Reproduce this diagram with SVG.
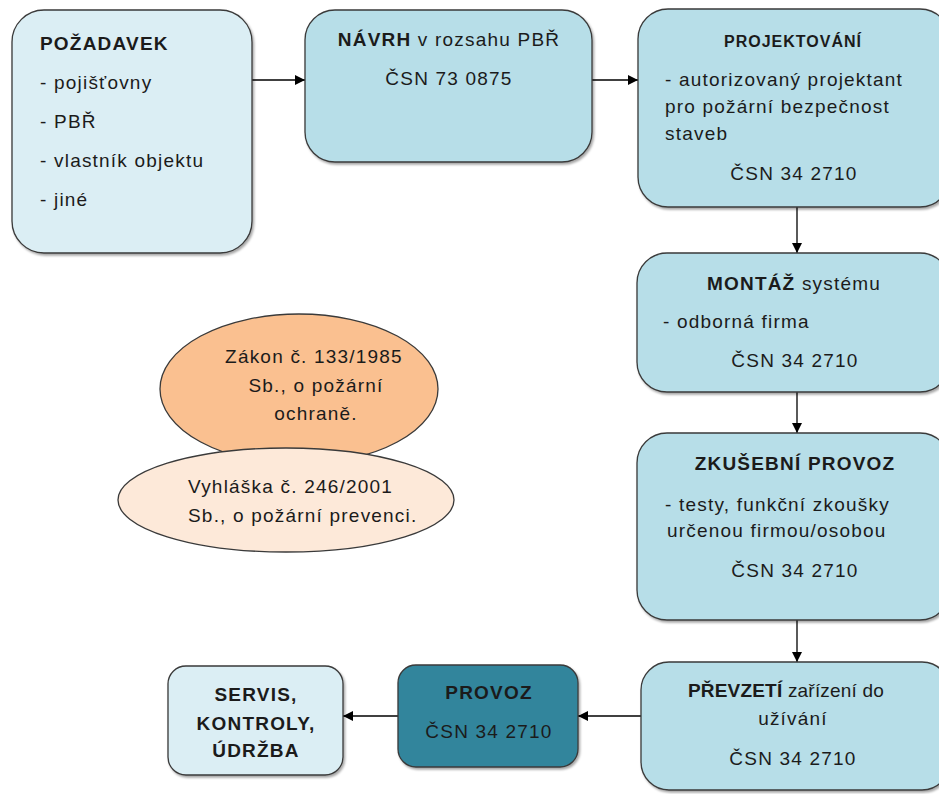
<svg xmlns="http://www.w3.org/2000/svg" width="939" height="794" viewBox="0 0 939 794">
  <defs>
    <marker id="arrow" viewBox="0 0 10 10" refX="10" refY="5" markerWidth="10" markerHeight="10" markerUnits="userSpaceOnUse" orient="auto">
      <path d="M0,0 L10,5 L0,10 z" fill="#000"/>
    </marker>
    <filter id="shadow" x="-5%" y="-5%" width="115%" height="115%">
      <feDropShadow dx="1.5" dy="2" stdDeviation="1" flood-color="#000" flood-opacity="0.35"/>
    </filter>
  </defs>
  <style>
    .box { stroke: #3a3a3a; stroke-width: 1.3; filter: url(#shadow); }
    .pale { fill: #dbeef4; }
    .mid { fill: #b7dee8; }
    .dark { fill: #31859c; }
    .t { font-family: "Liberation Sans", Arial, sans-serif; font-size: 19px; letter-spacing: 1.2px; fill: #1b1b1b; }
    .c { text-anchor: middle; }
    .b { font-weight: bold; }
    .conn { stroke: #000; stroke-width: 1.3; fill: none; marker-end: url(#arrow); }
  </style>

  <rect width="939" height="794" fill="#fff"/>

  <!-- connectors -->
  <g id="connectors">
    <line class="conn" x1="252" y1="80" x2="305" y2="80"/>
    <line class="conn" x1="592" y1="80" x2="638" y2="80"/>
    <line class="conn" x1="797" y1="207" x2="797" y2="253"/>
    <line class="conn" x1="797" y1="392" x2="797" y2="433"/>
    <line class="conn" x1="797" y1="620" x2="797" y2="662"/>
    <line class="conn" x1="641" y1="716" x2="578" y2="716"/>
    <line class="conn" x1="398" y1="716" x2="343" y2="716"/>
  </g>

  <!-- request -->
  <g id="pozadavek">
    <rect class="box pale" x="12" y="10" width="240" height="243" rx="32"/>
    <text class="t b" x="40" y="50">POŽADAVEK</text>
    <text class="t" x="40" y="89">- pojišťovny</text>
    <text class="t" x="40" y="128">- PBŘ</text>
    <text class="t" x="40" y="167">- vlastník objektu</text>
    <text class="t" x="40" y="206">- jiné</text>
  </g>

  <!-- design -->
  <g id="navrh">
    <rect class="box mid" x="305" y="10" width="287" height="152" rx="30"/>
    <text class="t c" x="449" y="46"><tspan class="b">NÁVRH</tspan> v rozsahu PBŘ</text>
    <text class="t c" x="449" y="85">ČSN 73 0875</text>
  </g>

  <!-- project -->
  <g id="projektovani">
    <rect class="box mid" x="638" y="9" width="312" height="198" rx="30"/>
    <text class="t c b" x="793" y="47" style="font-size:16px;letter-spacing:1px">PROJEKTOVÁNÍ</text>
    <text class="t" x="665" y="86">- autorizovaný projektant</text>
    <text class="t" x="665" y="113">pro požární bezpečnost</text>
    <text class="t" x="665" y="140">staveb</text>
    <text class="t c" x="794" y="180">ČSN 34 2710</text>
  </g>

  <!-- installation -->
  <g id="montaz">
    <rect class="box mid" x="637" y="253" width="313" height="139" rx="30"/>
    <text class="t c" x="794" y="290"><tspan class="b">MONTÁŽ</tspan> systému</text>
    <text class="t" x="663" y="328">- odborná firma</text>
    <text class="t c" x="795" y="367">ČSN 34 2710</text>
  </g>

  <!-- trial operation -->
  <g id="zkusebni-provoz">
    <rect class="box mid" x="637" y="433" width="313" height="187" rx="30"/>
    <text class="t c b" x="795" y="470">ZKUŠEBNÍ PROVOZ</text>
    <text class="t" x="665" y="511">- testy, funkční zkoušky</text>
    <text class="t" x="667" y="537">určenou firmou/osobou</text>
    <text class="t c" x="795" y="577">ČSN 34 2710</text>
  </g>

  <!-- handover -->
  <g id="prevzeti">
    <rect class="box mid" x="641" y="662" width="309" height="128" rx="28"/>
    <text class="t c" x="786" y="697" style="letter-spacing:0.2px"><tspan class="b">PŘEVZETÍ</tspan> zařízení do</text>
    <text class="t c" x="793" y="725">užívání</text>
    <text class="t c" x="793" y="765">ČSN 34 2710</text>
  </g>

  <!-- operation -->
  <g id="provoz">
    <rect class="box dark" x="398" y="665" width="180" height="102" rx="18"/>
    <text class="t c b" x="489" y="699">PROVOZ</text>
    <text class="t c" x="489" y="738">ČSN 34 2710</text>
  </g>

  <!-- service -->
  <g id="servis">
    <rect class="box pale" x="168" y="666" width="175" height="109" rx="18"/>
    <text class="t c b" x="256" y="701">SERVIS,</text>
    <text class="t c b" x="256" y="730">KONTROLY,</text>
    <text class="t c b" x="256" y="757">ÚDRŽBA</text>
  </g>

  <!-- legislation -->
  <g id="zakon">
    <ellipse cx="299" cy="389" rx="139" ry="75" fill="#fac090" stroke="#3a3a3a" stroke-width="1.3"/>
    <text class="t c" x="314" y="363">Zákon č. 133/1985</text>
    <text class="t c" x="316" y="392">Sb., o požární</text>
    <text class="t c" x="316" y="420">ochraně.</text>
  </g>
  <g id="vyhlaska">
    <ellipse cx="286" cy="500" rx="168" ry="52" fill="#fde9d9" stroke="#3a3a3a" stroke-width="1.3"/>
    <text class="t" x="188" y="493">Vyhláška č. 246/2001</text>
    <text class="t" x="188" y="522">Sb., o požární prevenci.</text>
  </g>
</svg>
